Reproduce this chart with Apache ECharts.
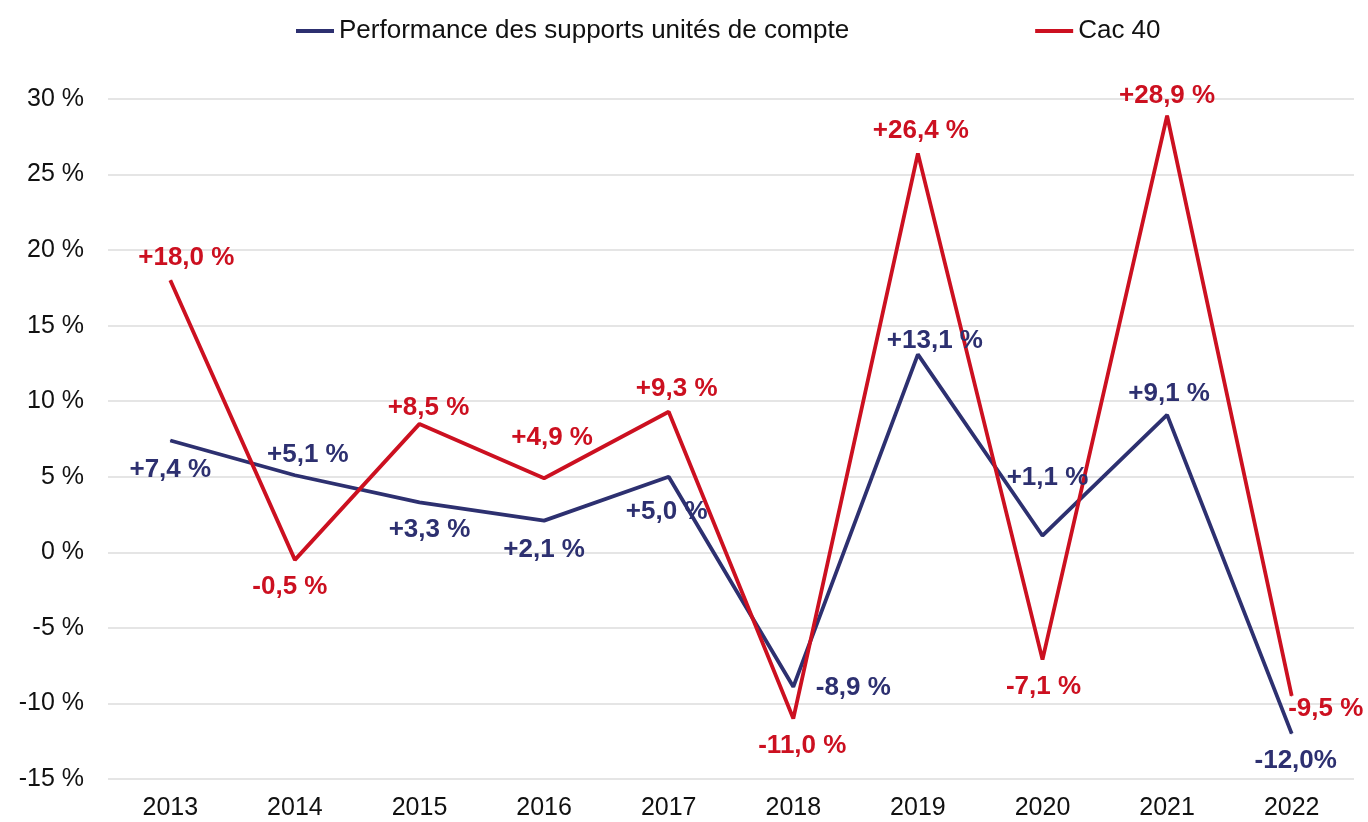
<!DOCTYPE html>
<html>
<head>
<meta charset="utf-8">
<style>
  html, body { margin: 0; padding: 0; background: #fff; }
  #chart { width: 1368px; height: 822px; }
</style>
<script src="https://cdn.jsdelivr.net/npm/echarts@6/dist/echarts.min.js"></script>
</head>
<body>
<div id="chart"></div>
<script>
// --- data ---
var years = ['2013', '2014', '2015', '2016', '2017', '2018', '2019', '2020', '2021', '2022'];
var supportsName = 'Performance des supports unités de compte';
var cacName = 'Cac 40';
var supportsValues = [7.4, 5.1, 3.3, 2.1, 5.0, -8.9, 13.1, 1.1, 9.1, -12.0];
var cacValues = [18.0, -0.5, 8.5, 4.9, 9.3, -11.0, 26.4, -7.1, 28.9, -9.5];
var supportsLabels = ['+7,4 %', '+5,1 %', '+3,3 %', '+2,1 %', '+5,0 %', '-8,9 %', '+13,1 %', '+1,1 %', '+9,1 %', '-12,0%'];
var cacLabels = ['+18,0 %', '-0,5 %', '+8,5 %', '+4,9 %', '+9,3 %', '-11,0 %', '+26,4 %', '-7,1 %', '+28,9 %', '-9,5 %'];

// label placement relative to each point (layout only)
var supportsOffsets = [[0, 29], [13, -20], [10, 27], [0, 29], [-2, 35], [60, 1], [17, -14], [5, -58], [2, -21], [4, 27]];
var cacOffsets = [[16, -23], [-5, 27], [9, -16], [8, -40], [8, -23], [9, 27], [3, -23], [1, 27], [0, -20], [34, 13]];

var BLUE = '#2d3070';
var RED = '#cc1020';
var FONT = 'Liberation Sans, Arial, sans-serif';

function buildData(values, labels, offsets) {
  return values.map(function (v, i) {
    return {
      value: v,
      label: { formatter: labels[i], offset: offsets[i] }
    };
  });
}

function lineSeries(name, color, values, labels, offsets) {
  return {
    name: name,
    type: 'line',
    data: buildData(values, labels, offsets),
    symbol: 'circle',
    symbolSize: 1,
    showSymbol: true,
    itemStyle: { color: color },
    lineStyle: { color: color, width: 3.8 },
    emphasis: { disabled: true },
    label: {
      show: true,
      position: 'inside',
      align: 'center',
      verticalAlign: 'middle',
      color: color,
      fontFamily: FONT,
      fontWeight: 'bold',
      fontSize: 26
    },
    animation: false
  };
}

var chart = echarts.init(document.getElementById('chart'));
chart.setOption({
  backgroundColor: '#ffffff',
  animation: false,
  legend: {
    left: 291,
    top: 13,
    itemGap: 186,
    itemWidth: 38,
    itemHeight: 4,
    icon: 'rect',
    textStyle: { fontFamily: FONT, fontSize: 26, color: '#111' },
    data: [supportsName, cacName]
  },
  grid: { left: 108, right: 14, top: 99, bottom: 43 },
  xAxis: {
    type: 'category',
    data: years,
    boundaryGap: true,
    axisLine: { show: false },
    axisTick: { show: false },
    axisLabel: { fontFamily: FONT, fontSize: 25, color: '#111', margin: 17 }
  },
  yAxis: {
    type: 'value',
    min: -15,
    max: 30,
    interval: 5,
    axisLine: { show: false },
    axisTick: { show: false },
    axisLabel: {
      fontFamily: FONT, fontSize: 25, color: '#111', margin: 24,
      formatter: '{value} %'
    },
    splitLine: { lineStyle: { color: '#dcdcdc', width: 1.5 } }
  },
  series: [
    lineSeries(supportsName, BLUE, supportsValues, supportsLabels, supportsOffsets),
    lineSeries(cacName, RED, cacValues, cacLabels, cacOffsets)
  ]
});
</script>
</body>
</html>
